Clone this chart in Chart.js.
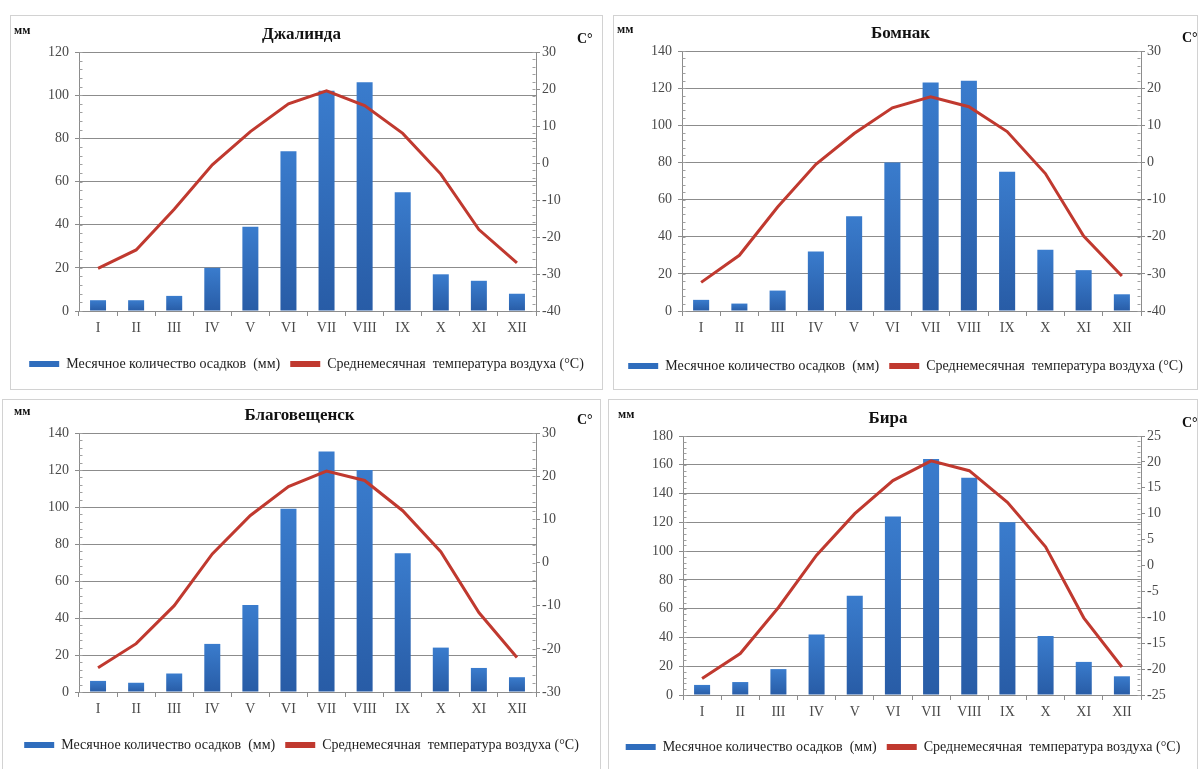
<!DOCTYPE html>
<html>
<head>
<meta charset="utf-8">
<title>Климатограммы</title>
<script src="https://cdn.jsdelivr.net/npm/chart.js@4.4.1/dist/chart.umd.min.js"></script>
<style>
  html, body { margin: 0; padding: 0; background: #fff; width: 1198px; height: 769px; overflow: hidden; }
  .panel { position: absolute; background: #fff; outline: 1px solid #d2d2d2; outline-offset: -1px; }
  .panel canvas { display: block; }
</style>
</head>
<body>
<div class="panel" id="p0"><canvas id="c0"></canvas></div>
<div class="panel" id="p1"><canvas id="c1"></canvas></div>
<div class="panel" id="p2"><canvas id="c2"></canvas></div>
<div class="panel" id="p3"><canvas id="c3"></canvas></div>
<script>
// Months (Roman numerals)
const months = ['I', 'II', 'III', 'IV', 'V', 'VI', 'VII', 'VIII', 'IX', 'X', 'XI', 'XII'];

const stationNames = ['Джалинда', 'Бомнак', 'Благовещенск', 'Бира'];
const seriesLabels = ['Месячное количество осадков  (мм)', 'Среднемесячная  температура воздуха (°С)'];

// Monthly precipitation, mm
const dzhalindaPrecip = [5, 5, 7, 20, 39, 74, 102, 106, 55, 17, 14, 8];
const bomnakPrecip    = [6, 4, 11, 32, 51, 80, 123, 124, 75, 33, 22, 9];
const blagPrecip      = [6, 5, 10, 26, 47, 99, 130, 120, 75, 24, 13, 8];
const biraPrecip      = [7, 9, 18, 42, 69, 124, 164, 151, 120, 41, 23, 13];

// Mean monthly air temperature, °C
const dzhalindaTemp = [-28.5, -23.5, -12.5, -0.5, 8.5, 16, 19.5, 15.5, 8, -3, -18, -27];
const bomnakTemp    = [-32.3, -25, -12, -0.5, 7.8, 14.7, 17.7, 15, 8.3, -3, -19.8, -30.6];
const blagTemp      = [-24.4, -18.8, -10, 2, 10.9, 17.6, 21.2, 19, 12, 2.5, -11.6, -22];
const biraTemp      = [-21.8, -17, -8.1, 2, 10, 16.4, 20.2, 18.3, 12.2, 3.6, -10.1, -19.6];

// Axis ranges: [min, max, step]
const precipAxes = [[0, 120, 20], [0, 140, 20], [0, 140, 20], [0, 180, 20]];
const tempAxes   = [[-40, 30, 10], [-40, 30, 10], [-30, 30, 10], [-25, 25, 5]];

const precipSeries = [dzhalindaPrecip, bomnakPrecip, blagPrecip, biraPrecip];
const tempSeries   = [dzhalindaTemp, bomnakTemp, blagTemp, biraTemp];

// Page layout of the four panels (absolute pixels): box, plot area, legend row, title shift
const panelLayout = [
  { left: 10,  top: 15,  w: 593, h: 375, plot: [79, 536, 52, 311],   legendY: 364, titleDx: -6 },
  { left: 613, top: 15,  w: 585, h: 375, plot: [682, 1141, 51, 311], legendY: 366, titleDx: -11 },
  { left: 2,   top: 399, w: 599, h: 372, plot: [79, 536, 433, 692],  legendY: 745, titleDx: -8 },
  { left: 608, top: 399, w: 590, h: 372, plot: [683, 1141, 436, 695], legendY: 747, titleDx: -24 }
];

const SERIF = '"Liberation Serif", "Times New Roman", serif';
const AXIS_GREY = '#8c8c8c';
const TICK_TEXT = '#4a4a4a';
const BAR_BLUE = '#2f6dbd';
const LINE_RED = '#c0392f';

// Minor tick marks, chart title and unit captions
const decorPlugin = {
  id: 'decor',
  afterDraw(chart, args, opts) {
    const { ctx, chartArea: a, scales } = chart;
    ctx.save();
    ctx.strokeStyle = '#a0a0a0';
    ctx.lineWidth = 1;
    [['y', 1, a.left], ['y1', -1, a.right]].forEach(([id, dir, x0]) => {
      const s = scales[id];
      const step = s.options.ticks.stepSize / 5;
      const n = Math.round((s.max - s.min) / step);
      for (let i = 0; i <= n; i++) {
        const py = Math.round(s.getPixelForValue(s.min + i * step)) + 0.5;
        ctx.beginPath();
        ctx.moveTo(x0 + 0.5 * dir, py);
        ctx.lineTo(x0 + 3.5 * dir, py);
        ctx.stroke();
      }
    });
    ctx.fillStyle = '#111';
    ctx.textBaseline = 'middle';
    ctx.textAlign = 'center';
    ctx.font = 'bold 17px ' + SERIF;
    ctx.fillText(opts.title, (a.left + a.right) / 2 + opts.titleDx, a.top - 17);
    ctx.textAlign = 'left';
    ctx.font = 'bold 12px ' + SERIF;
    ctx.fillText('мм', a.left - 65, a.top - 21);
    ctx.font = 'bold 14px ' + SERIF;
    ctx.fillText('C°', a.right + 41, a.top - 13);
    ctx.restore();
  }
};

function barFill(context) {
  const chart = context.chart;
  const y = chart.scales && chart.scales.y;
  if (!chart.chartArea || !y || context.raw == null) return BAR_BLUE;
  const top = y.getPixelForValue(context.raw);
  const bottom = y.getPixelForValue(0);
  if (!isFinite(top) || !isFinite(bottom) || bottom - top < 1) return BAR_BLUE;
  const g = chart.ctx.createLinearGradient(0, top, 0, bottom);
  g.addColorStop(0, '#3a7ccd');
  g.addColorStop(1, '#285ca6');
  return g;
}

function buildChart(i) {
  const L = panelLayout[i];
  const box = document.getElementById('p' + i);
  box.style.left = L.left + 'px';
  box.style.top = L.top + 'px';
  box.style.width = L.w + 'px';
  box.style.height = L.h + 'px';
  const canvas = document.getElementById('c' + i);
  canvas.width = L.w;
  canvas.height = L.h;

  const [pl, pr, pt, pb] = L.plot;
  const padTop = pt - L.top;
  const yWidth = pl - L.left;
  const y1Width = L.left + L.w - pr;
  const legendFont = 14;
  const legendH = legendFont + 10 + 10;
  const xHeight = (L.legendY - legendH / 2) - pb;
  const padBottom = (L.top + L.h) - (L.legendY + legendH / 2);

  const [pMin, pMax, pStep] = precipAxes[i];
  const [tMin, tMax, tStep] = tempAxes[i];
  const tickFont = { family: SERIF, size: 14 };

  return new Chart(canvas, {
    data: {
      labels: months,
      datasets: [
        {
          type: 'bar',
          label: seriesLabels[0],
          data: precipSeries[i],
          yAxisID: 'y',
          backgroundColor: barFill,
          borderWidth: 0,
          categoryPercentage: 1,
          barPercentage: 0.42,
          order: 2
        },
        {
          type: 'line',
          label: seriesLabels[1],
          data: tempSeries[i],
          yAxisID: 'y1',
          borderColor: LINE_RED,
          backgroundColor: LINE_RED,
          borderWidth: 3,
          pointRadius: 0,
          tension: 0,
          order: 1
        }
      ]
    },
    options: {
      responsive: false,
      animation: false,
      events: [],
      layout: { padding: { top: padTop, bottom: padBottom, left: 0, right: 0 } },
      scales: {
        x: {
          offset: true,
          grid: { display: true, drawOnChartArea: false, offset: true, tickLength: 5, color: AXIS_GREY },
          border: { display: true, color: AXIS_GREY },
          ticks: { font: tickFont, color: TICK_TEXT, padding: 4, maxRotation: 0, autoSkip: false },
          afterFit(s) { s.height = xHeight; }
        },
        y: {
          position: 'left',
          min: pMin, max: pMax,
          grid: { color: AXIS_GREY, tickLength: 4 },
          border: { display: true, color: AXIS_GREY },
          ticks: { stepSize: pStep, font: tickFont, color: TICK_TEXT, padding: 6 },
          afterFit(s) { s.width = yWidth; }
        },
        y1: {
          position: 'right',
          min: tMin, max: tMax,
          grid: { drawOnChartArea: false, color: AXIS_GREY, tickLength: 4 },
          border: { display: true, color: AXIS_GREY },
          ticks: { stepSize: tStep, font: tickFont, color: TICK_TEXT, padding: 2 },
          afterFit(s) { s.width = y1Width; }
        }
      },
      plugins: {
        title: { display: false },
        tooltip: { enabled: false },
        legend: {
          display: true,
          position: 'bottom',
          labels: {
            boxWidth: 30,
            boxHeight: 6,
            padding: 10,
            color: '#222',
            font: { family: SERIF, size: legendFont },
            generateLabels(chart) {
              return chart.data.datasets.map((ds, k) => ({
                text: ds.label,
                fillStyle: k === 0 ? BAR_BLUE : LINE_RED,
                strokeStyle: k === 0 ? BAR_BLUE : LINE_RED,
                lineWidth: 0,
                hidden: false,
                datasetIndex: k,
                fontColor: '#222'
              }));
            }
          }
        },
        decor: { title: stationNames[i], titleDx: L.titleDx }
      }
    },
    plugins: [decorPlugin]
  });
}

for (let i = 0; i < 4; i++) buildChart(i);
</script>
</body>
</html>
